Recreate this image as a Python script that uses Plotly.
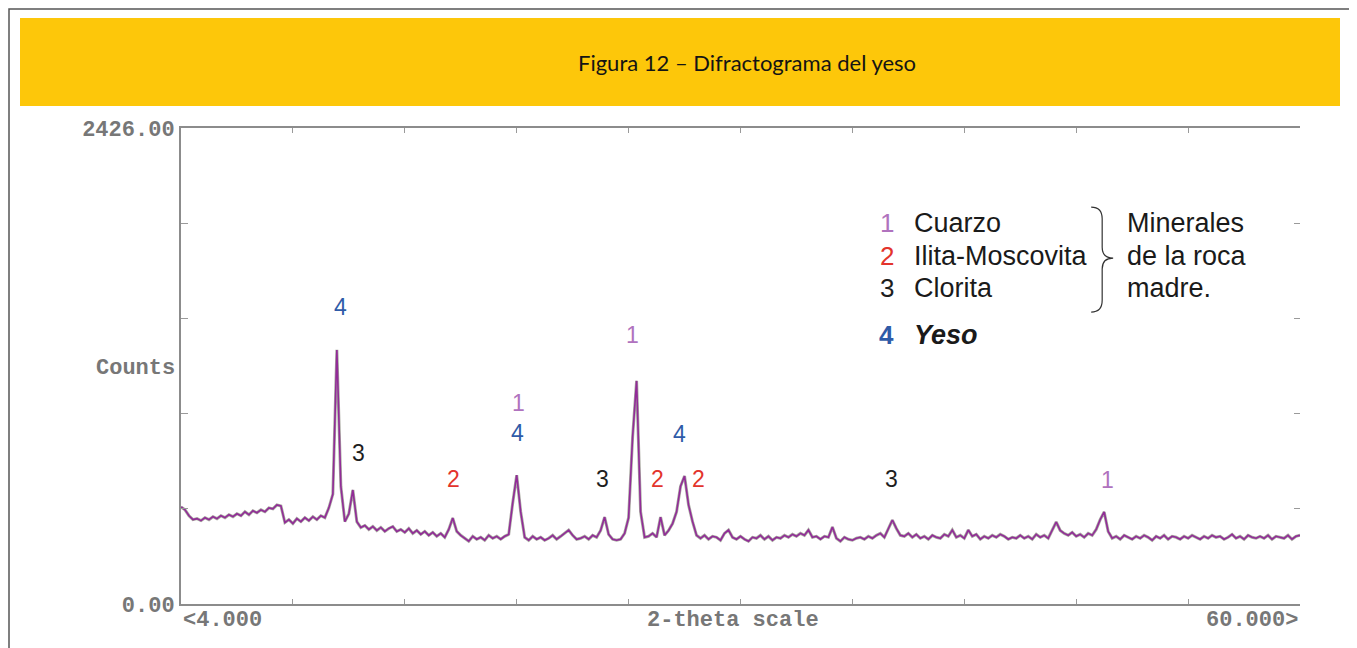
import plotly.graph_objects as go

# ---- data ----
two_theta_start = 4.0
two_theta_step = 0.2
counts = [
    495, 480, 450, 430, 435, 425, 440, 430, 445, 435,   # 4.0 - 5.8
    450, 440, 455, 445, 460, 450, 470, 455, 475, 465,   # 6.0 - 7.8
    480, 470, 490, 485, 505, 500, 415, 430, 410, 435,   # 8.0 - 9.8
    420, 440, 425, 445, 430, 450, 440, 490, 560, 1295,  # 10.0 - 11.8
    600, 420, 460, 581, 420, 390, 400, 380, 395, 375,   # 12.0 - 13.8
    390, 370, 385, 395, 370, 380, 365, 385, 360, 375,   # 14.0 - 15.8
    355, 370, 350, 365, 345, 360, 340, 380, 438, 370,   # 16.0 - 17.8
    350, 335, 320, 345, 330, 340, 325, 350, 335, 345,   # 18.0 - 19.8
    330, 345, 355, 515, 657, 470, 340, 325, 345, 330,   # 20.0 - 21.8
    340, 325, 335, 350, 330, 345, 360, 377, 350, 330,   # 22.0 - 23.8
    335, 345, 330, 350, 340, 375, 443, 355, 330, 325,   # 24.0 - 25.8
    330, 360, 440, 851, 1137, 470, 340, 345, 360, 340,  # 26.0 - 27.8
    443, 350, 375, 410, 470, 600, 652, 505, 420, 350,   # 28.0 - 29.8
    335, 350, 330, 345, 340, 325, 360, 377, 340, 330,   # 30.0 - 31.8
    345, 330, 320, 340, 335, 350, 330, 345, 325, 340,   # 32.0 - 33.8
    335, 350, 340, 355, 345, 360, 350, 377, 340, 345,   # 34.0 - 35.8
    330, 345, 340, 392, 335, 320, 340, 330, 325, 335,   # 36.0 - 37.8
    340, 330, 345, 335, 350, 360, 340, 380, 428, 385,   # 38.0 - 39.8
    350, 345, 360, 340, 355, 335, 345, 330, 350, 340,   # 40.0 - 41.8
    335, 355, 345, 377, 340, 350, 335, 377, 345, 355,   # 42.0 - 43.8
    330, 345, 335, 350, 340, 355, 345, 330, 340, 335,   # 44.0 - 45.8
    350, 335, 345, 330, 355, 340, 350, 335, 380, 418,   # 46.0 - 47.8
    375, 360, 350, 365, 345, 355, 340, 360, 350, 380,   # 48.0 - 49.8
    430, 469, 370, 335, 345, 330, 350, 340, 330, 345,   # 50.0 - 51.8
    335, 350, 340, 325, 345, 335, 350, 330, 345, 340,   # 52.0 - 53.8
    330, 345, 335, 350, 340, 330, 345, 335, 350, 340,   # 54.0 - 55.8
    345, 330, 340, 355, 335, 345, 330, 350, 340, 335,   # 56.0 - 57.8
    345, 335, 350, 330, 345, 340, 335, 350, 330, 345,   # 58.0 - 59.8
    350,                                                # 60.0
]
two_theta = [round(two_theta_start + two_theta_step * i, 2) for i in range(len(counts))]

y_max = 2426.0
x_min, x_max = 4.0, 60.0

# peak labels: (2-theta, counts, label / mineral id)
peak_x = [12.0, 12.9, 17.66, 20.87, 20.82, 25.07, 26.57, 27.87, 28.97, 29.92, 39.58, 50.39]
peak_y = [1514, 770, 637, 1024, 871, 637, 1371, 637, 866, 637, 637, 632]
peak_lab = ["4", "3", "2", "1", "4", "3", "1", "2", "4", "2", "3", "1"]

mineral_colors = {"1": "#B072BE", "2": "#E3342C", "3": "#1E1E1E", "4": "#2F5BA8"}
legend_ids = ["1", "2", "3", "4"]
legend_names = ["Cuarzo", "Ilita-Moscovita", "Clorita", "<b><i>Yeso</i></b>"]
legend_y = [1942, 1774, 1610, 1371]
group_text = ["Minerales", "de la roca", "madre."]

# ---- figure ----
OFF = 8  # page body margin
W, H = 1357, 648
L, R, T, B = 181 - OFF, 65, 128 - OFF, 52
pw, ph = W - L - R, H - T - B


def px_to_paper_x(px):  # screen px -> paper
    return (px - OFF - L) / pw


def px_to_paper_y(py):
    return (T + ph - (py - OFF)) / ph


fig = go.Figure()
# grey outline scan underneath, purple scan on top
fig.add_trace(go.Scatter(
    x=two_theta, y=counts, mode="lines", yaxis="y",
    line=dict(color="#A8A8A0", width=3.0),
    hoverinfo="skip", showlegend=False,
))
fig.add_trace(go.Scatter(
    x=two_theta, y=counts, mode="lines", yaxis="y2",
    line=dict(color="#922B98", width=1.6),
    hoverinfo="skip", showlegend=False,
))

mono = dict(family="Liberation Mono, DejaVu Sans Mono, monospace", size=22, color="#777777")

fig.update_layout(
    width=W, height=H,
    margin=dict(l=L, r=R, t=T, b=B),
    paper_bgcolor="white", plot_bgcolor="white",
    showlegend=False,
    xaxis=dict(
        range=[x_min, x_max], showgrid=False, zeroline=False,
        showline=True, linecolor="#8C8C8C", linewidth=2, mirror="ticks",
        ticks="inside", ticklen=5, tickwidth=1, tickcolor="#9A9A9A",
        tickvals=[x_min + 5.6 * i for i in range(1, 10)],
        showticklabels=False,
    ),
    yaxis=dict(
        range=[0, y_max], showgrid=False, zeroline=False,
        showline=True, linecolor="#8C8C8C", linewidth=2,
        ticks="inside", ticklen=7, tickwidth=1, tickcolor="#9A9A9A",
        tickvals=[y_max / 5 * i for i in range(6)],
        ticktext=["<b>0.00</b>", "", "", "", "", "<b>2426.00</b>"],
        tickfont=dict(family=mono["family"], size=mono["size"], color=mono["color"]),
    ),
    yaxis2=dict(
        range=[0, y_max], overlaying="y", side="right", showgrid=False, zeroline=False,
        showline=False, ticks="inside", ticklen=6, tickwidth=1, tickcolor="#9A9A9A",
        tickvals=[y_max / 5 * i for i in range(1, 5)], showticklabels=False,
    ),
)

shapes = []
# outer frame
shapes.append(dict(type="rect", xref="paper", yref="paper",
                   x0=px_to_paper_x(9), x1=px_to_paper_x(1380),
                   y0=px_to_paper_y(680), y1=px_to_paper_y(9),
                   line=dict(color="#555555", width=1.5), fillcolor="rgba(0,0,0,0)", layer="below"))
# yellow title band
shapes.append(dict(type="rect", xref="paper", yref="paper",
                   x0=px_to_paper_x(20), x1=px_to_paper_x(1340),
                   y0=px_to_paper_y(106), y1=px_to_paper_y(18),
                   line=dict(width=0), fillcolor="#FDC70A", layer="below"))
# curly brace of the legend
bx0, bxm, bx1 = 49.55, 50.1, 50.65
by_top, by_mid, by_bot = 2023, 1763, 1488
brace = (f"M {bx0},{by_top} Q {bxm},{by_top} {bxm},{by_top-60} "
         f"L {bxm},{by_mid+55} Q {bxm},{by_mid} {bx1},{by_mid} "
         f"Q {bxm},{by_mid} {bxm},{by_mid-55} "
         f"L {bxm},{by_bot+60} Q {bxm},{by_bot} {bx0},{by_bot}")
shapes.append(dict(type="path", xref="x", yref="y", path=brace,
                   line=dict(color="#333333", width=1.2)))
fig.update_layout(shapes=shapes)

ann = []
ann.append(dict(text="Figura 12 – Difractograma del yeso", xref="paper", yref="paper",
                x=px_to_paper_x(747), y=px_to_paper_y(62), showarrow=False,
                xanchor="center", yanchor="middle",
                font=dict(family="Lato, Open Sans, sans-serif", size=22, color="#141414")))
# axis texts
ann.append(dict(text="<b>Counts</b>", xref="paper", yref="y", x=0, y=1198, xanchor="right",
                yanchor="middle", xshift=-4, showarrow=False, font=mono))
ann.append(dict(text="<b>&lt;4.000</b>", xref="x", yref="paper", x=x_min, y=px_to_paper_y(620),
                xanchor="left", yanchor="middle", showarrow=False, font=mono))
ann.append(dict(text="<b>2-theta scale</b>", xref="x", yref="paper", x=31.6, y=px_to_paper_y(620),
                xanchor="center", yanchor="middle", showarrow=False, font=mono))
ann.append(dict(text="<b>60.000&gt;</b>", xref="x", yref="paper", x=x_max, y=px_to_paper_y(620),
                xanchor="right", yanchor="middle", showarrow=False, font=mono))
# peak labels
for px_, py_, lab in zip(peak_x, peak_y, peak_lab):
    ann.append(dict(text=lab, x=px_, y=py_, xref="x", yref="y", showarrow=False,
                    xanchor="center", yanchor="middle",
                    font=dict(family="Liberation Sans, Arial, sans-serif", size=23,
                              color=mineral_colors[lab])))
# legend block
for mid, name, ly in zip(legend_ids, legend_names, legend_y):
    ann.append(dict(text=(f"<b>{mid}</b>" if mid == "4" else mid), x=39.33, y=ly,
                    xref="x", yref="y", showarrow=False, xanchor="center", yanchor="middle",
                    font=dict(family="Liberation Sans, Arial, sans-serif", size=26,
                              color=mineral_colors[mid])))
    ann.append(dict(text=name, x=40.6, y=ly, xref="x", yref="y", showarrow=False,
                    xanchor="left", yanchor="middle",
                    font=dict(family="Liberation Sans, Arial, sans-serif", size=27, color="#1A1A1A")))
for t, ly in zip(group_text, legend_y[:3]):
    ann.append(dict(text=t, x=51.25, y=ly, xref="x", yref="y", showarrow=False,
                    xanchor="left", yanchor="middle",
                    font=dict(family="Liberation Sans, Arial, sans-serif", size=27, color="#1A1A1A")))
fig.update_layout(annotations=ann)

fig.write_html("out.html")
